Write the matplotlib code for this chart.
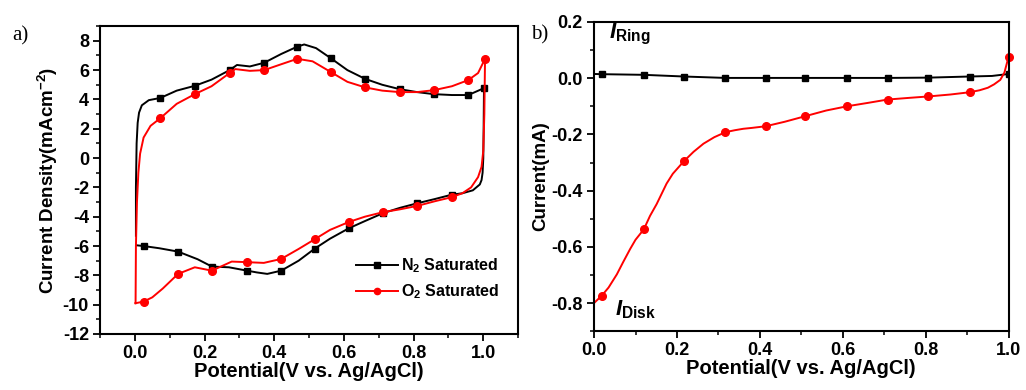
import matplotlib.pyplot as plt
from matplotlib.ticker import MultipleLocator

plt.rcParams['font.family'] = ['Liberation Sans', 'DejaVu Sans']
plt.rcParams['font.weight'] = 'bold'
plt.rcParams['axes.unicode_minus'] = False
plt.rcParams['mathtext.fontset'] = 'custom'
plt.rcParams['mathtext.rm'] = 'Liberation Sans:bold'
plt.rcParams['mathtext.it'] = 'Liberation Sans:bold:italic'
plt.rcParams['mathtext.bf'] = 'Liberation Sans:bold'

# ---- panel a: cyclic voltammograms ----
n2_x = [0.003, 0.003, 0.005, 0.008, 0.012, 0.02, 0.04, 0.073, 0.12, 0.172, 0.22, 0.272,
        0.293, 0.33, 0.371, 0.42, 0.466, 0.486, 0.52, 0.563, 0.61, 0.661, 0.71, 0.76,
        0.81, 0.858, 0.91, 0.957, 1.002,
        1.001, 1.0, 0.998, 0.995, 0.99, 0.97, 0.94, 0.909, 0.86, 0.811, 0.76, 0.712,
        0.66, 0.614, 0.56, 0.516, 0.47, 0.42, 0.38, 0.35, 0.322, 0.27, 0.221, 0.18,
        0.124, 0.07, 0.025, 0.005]
n2_y = [-5.3, -2.0, 1.0, 2.4, 3.1, 3.6, 3.95, 4.1, 4.6, 4.93, 5.35, 6.0,
        6.35, 6.25, 6.5, 7.1, 7.6, 7.75, 7.5, 6.8, 6.0, 5.4, 5.0, 4.7,
        4.5, 4.36, 4.3, 4.3, 4.77,
        2.0, 0.0, -1.0, -1.5, -1.8, -2.2, -2.4, -2.5, -2.8, -3.08, -3.4, -3.76,
        -4.3, -4.79, -5.5, -6.18, -7.0, -7.68, -7.9, -7.8, -7.68, -7.45, -7.4, -6.9,
        -6.38, -6.15, -6.0, -5.95]
n2_mx = [0.073, 0.172, 0.272, 0.371, 0.466, 0.563, 0.661, 0.76, 0.858, 0.957, 1.002,
         0.909, 0.811, 0.712, 0.614, 0.516, 0.42, 0.322, 0.221, 0.124, 0.025]
n2_my = [4.1, 4.93, 6.0, 6.5, 7.6, 6.8, 5.4, 4.7, 4.36, 4.3, 4.77,
         -2.5, -3.08, -3.76, -4.79, -6.18, -7.68, -7.68, -7.4, -6.38, -6.0]

o2_x = [0.002, 0.003, 0.006, 0.01, 0.015, 0.025, 0.045, 0.073, 0.12, 0.172, 0.22, 0.272,
        0.288, 0.33, 0.371, 0.42, 0.466, 0.51, 0.563, 0.61, 0.661, 0.71, 0.76, 0.81,
        0.858, 0.91, 0.957, 0.985, 1.005,
        1.003, 1.0, 0.995, 0.985, 0.965, 0.94, 0.909, 0.86, 0.811, 0.76, 0.712, 0.66,
        0.614, 0.56, 0.516, 0.47, 0.42, 0.37, 0.322, 0.278, 0.221, 0.172, 0.124, 0.08,
        0.05, 0.025, 0.002]
o2_y = [-9.9, -6.0, -3.0, -1.0, 0.3, 1.4, 2.2, 2.72, 3.7, 4.36, 4.9, 5.8,
        6.07, 5.95, 6.0, 6.4, 6.77, 6.6, 5.86, 5.2, 4.82, 4.6, 4.5, 4.5,
        4.63, 4.9, 5.32, 5.8, 6.77,
        3.0, 0.5, -0.6, -1.3, -2.0, -2.4, -2.67, -2.95, -3.26, -3.5, -3.69, -4.0,
        -4.36, -4.9, -5.54, -6.2, -6.88, -7.15, -7.1, -7.06, -7.68, -7.45, -7.9, -8.9,
        -9.5, -9.79, -9.9]
o2_mx = [0.073, 0.172, 0.272, 0.371, 0.466, 0.563, 0.661, 0.76, 0.858, 0.957, 1.005,
         0.909, 0.811, 0.712, 0.614, 0.516, 0.42, 0.322, 0.221, 0.124, 0.025]
o2_my = [2.72, 4.36, 5.8, 6.0, 6.77, 5.86, 4.82, 4.5, 4.63, 5.32, 6.77,
         -2.67, -3.26, -3.69, -4.36, -5.54, -6.88, -7.1, -7.68, -7.9, -9.79]

# ---- panel b: ring and disk currents ----
ring_x = [0.0, 0.0185, 0.12, 0.217, 0.317, 0.414, 0.51, 0.61, 0.708, 0.806, 0.906, 0.96, 1.0]
ring_y = [0.015, 0.0143, 0.012, 0.006, 0.001, 0.001, 0.001, 0.001, 0.001, 0.002, 0.006, 0.008, 0.015]
ring_mx = [0.0185, 0.12, 0.217, 0.317, 0.414, 0.51, 0.61, 0.708, 0.806, 0.906, 1.0]
ring_my = [0.0143, 0.012, 0.006, 0.001, 0.001, 0.001, 0.001, 0.001, 0.002, 0.006, 0.015]

disk_x = [0.0, 0.0185, 0.035, 0.055, 0.07, 0.087, 0.1, 0.12, 0.135, 0.151, 0.175, 0.19,
          0.217, 0.24, 0.264, 0.29, 0.317, 0.34, 0.36, 0.38, 0.414, 0.46, 0.51, 0.56,
          0.61, 0.66, 0.708, 0.76, 0.806, 0.86, 0.906, 0.93, 0.95, 0.965, 0.98, 0.99, 1.0]
disk_y = [-0.8, -0.774, -0.745, -0.698, -0.655, -0.608, -0.575, -0.538, -0.49, -0.448,
          -0.375, -0.34, -0.295, -0.262, -0.233, -0.21, -0.192, -0.185, -0.18, -0.177,
          -0.171, -0.155, -0.135, -0.115, -0.1, -0.088, -0.076, -0.07, -0.065, -0.058,
          -0.05, -0.043, -0.034, -0.022, -0.006, 0.02, 0.076]
disk_mx = [0.0185, 0.12, 0.217, 0.317, 0.414, 0.51, 0.61, 0.708, 0.806, 0.906, 1.0]
disk_my = [-0.774, -0.538, -0.295, -0.192, -0.171, -0.135, -0.1, -0.076, -0.065, -0.05, 0.076]

fig = plt.figure(figsize=(10.26, 3.9), dpi=100)
ax1 = fig.add_axes([0.0975, 0.1436, 0.4075, 0.7894])
ax2 = fig.add_axes([0.579, 0.151, 0.404, 0.7926])

lw = 1.4
ax1.plot(n2_x, n2_y, color='black', lw=lw)
ax1.plot(n2_mx, n2_my, 's', color='black', ms=5)
ax1.plot(o2_x, o2_y, color='red', lw=lw)
ax1.plot(o2_mx, o2_my, 'o', color='red', ms=5.5)
# legend proxies
ax1.plot([], [], '-s', color='black', lw=lw, ms=4, label=r'N$_\mathregular{2}$ Saturated')
ax1.plot([], [], '-o', color='red', lw=lw, ms=4.5, label=r'O$_\mathregular{2}$ Saturated')

ax1.set_xlim(-0.1, 1.1)
ax1.set_ylim(-12, 9)
ax1.xaxis.set_major_locator(MultipleLocator(0.2))
ax1.xaxis.set_minor_locator(MultipleLocator(0.1))
ax1.yaxis.set_major_locator(MultipleLocator(2))
ax1.yaxis.set_minor_locator(MultipleLocator(1))
ax1.set_xticks([0.0, 0.2, 0.4, 0.6, 0.8, 1.0])
ax1.set_xlabel('Potential(V vs. Ag/AgCl)', fontsize=14.5, fontweight='bold', labelpad=0)
ax1.set_ylabel(r'Current Density(mAcm$^\mathregular{-2}$)', fontsize=13.5, fontweight='bold', labelpad=2)
leg = ax1.legend(loc='lower right', bbox_to_anchor=(0.99, 0.06), frameon=False,
                 prop={'weight': 'bold', 'size': 11.5}, handlelength=2.6,
                 handletextpad=0.2, labelspacing=0.45)

ax2.plot(ring_x, ring_y, color='black', lw=lw)
ax2.plot(ring_mx, ring_my, 's', color='black', ms=5)
ax2.plot(disk_x, disk_y, color='red', lw=lw)
ax2.plot(disk_mx, disk_my, 'o', color='red', ms=5.5, clip_on=False)
ax2.set_xlim(0, 1.0)
ax2.set_ylim(-0.9, 0.2)
ax2.xaxis.set_major_locator(MultipleLocator(0.2))
ax2.xaxis.set_minor_locator(MultipleLocator(0.1))
ax2.yaxis.set_major_locator(MultipleLocator(0.2))
ax2.yaxis.set_minor_locator(MultipleLocator(0.1))
ax2.set_xlabel('Potential(V vs. Ag/AgCl)', fontsize=14.5, fontweight='bold', labelpad=0)
ax2.set_ylabel('Current(mA)', fontsize=13.5, fontweight='bold', labelpad=2)
ax2.text(0.035, 0.155, r'$I_\mathregular{Ring}$', fontsize=16, va='center', ha='left')
ax2.text(0.05, -0.825, r'$I_\mathregular{Disk}$', fontsize=16, va='center', ha='left')

for ax in (ax1, ax2):
    for s in ax.spines.values():
        s.set_linewidth(1.5)
    ax.tick_params(which='major', direction='out', length=5, width=1.3,
                   labelsize=13, pad=3)
    ax.tick_params(which='minor', direction='out', length=3, width=1.1)

fig.text(0.012, 0.895, 'a)', fontsize=15, family='Liberation Serif', fontweight='normal')
fig.text(0.518, 0.9, 'b)', fontsize=15, family='Liberation Serif', fontweight='normal')

fig.savefig('out.png', dpi=100)
